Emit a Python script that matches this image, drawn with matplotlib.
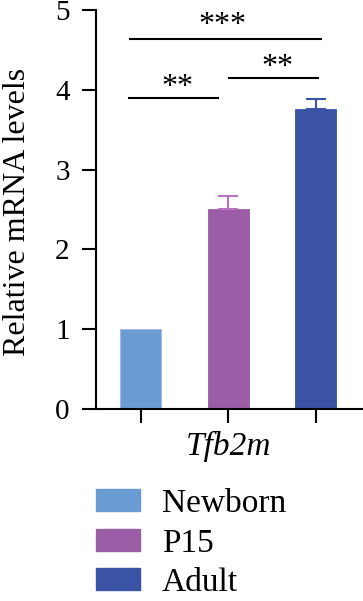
import matplotlib
matplotlib.use("Agg")
import matplotlib.pyplot as plt
from matplotlib.patches import Patch

groups = ["Newborn", "P15", "Adult"]
values = [1.0, 2.51, 3.76]
errors = [0.0, 0.16, 0.12]
colors = ["#6A9BD3", "#9B5EA6", "#3A53A4"]
err_colors = ["#6A9BD3", "#B872C4", "#3A53A4"]
gene = "Tfb2m"
ylabel = "Relative mRNA levels"
yticks = [0, 1, 2, 3, 4, 5]
# significance brackets: (left index, right index, height, label)
sig_pairs = [(0, 1, 3.90, "**"), (1, 2, 4.15, "**"), (0, 2, 4.64, "***")]

plt.rcParams['font.family'] = ['Liberation Serif', 'DejaVu Serif']

fig = plt.figure(figsize=(3.63, 6.01), dpi=100)
ax = fig.add_axes([0.2645, 0.3195, 0.7355, 0.664])

x = list(range(len(groups)))
for i in x:
    ax.bar(i, values[i], width=0.47, color=colors[i], edgecolor="#9fb8e0" if i == 0 else colors[i],
           linewidth=0.6, zorder=2)
    if errors[i] > 0:
        ax.errorbar(i, values[i], yerr=[[0], [errors[i]]], fmt="none", ecolor=err_colors[i],
                    elinewidth=1.5, capsize=7, capthick=1.5, zorder=3)

# bracket extents relative to group centres
line_ext = {(0, 1): (-0.149, 0.891, 0.05), (1, 2): (0.994, 2.034, 0.05), (0, 2): (-0.137, 2.069, -0.03)}
for l, r, h, lab in sig_pairs:
    x0, x1, off = line_ext[(l, r)]
    ax.plot([x0, x1], [h, h], color="black", lw=1.5, solid_capstyle="butt", clip_on=False)
    dy = 0.07 if len(lab) == 3 else 0.035
    ax.text((x0 + x1) / 2 + off, h + dy, lab, ha="center", va="baseline", fontsize=23)

ax.set_xlim(-0.51, 2.54)
ax.set_ylim(0, 5)
ax.set_yticks(yticks)
ax.set_xticks(x)
ax.set_xticklabels([])
ax.tick_params(axis="y", labelsize=21, length=10, width=1.5, pad=9)
ax.tick_params(axis="x", length=10, width=1.5)
ax.spines["top"].set_visible(False)
ax.spines["right"].set_visible(False)
ax.spines["left"].set_linewidth(1.5)
ax.spines["bottom"].set_linewidth(1.5)
ax.set_ylabel(ylabel, fontsize=23)
ax.yaxis.set_label_coords(-0.24, 0.494)
ax.text(1, -0.58, gene, ha="center", va="baseline", fontsize=24, style="italic",
        transform=ax.transData)

handles = [Patch(facecolor=c, edgecolor=c) for c in colors]
fig.legend(handles, groups, loc="upper left", bbox_to_anchor=(0.264, 0.187),
           frameon=False, fontsize=24, handlelength=1.32, handleheight=0.63,
           handletextpad=0.66, labelspacing=0.27, borderaxespad=0, borderpad=0)

fig.savefig("out.png", dpi=100)
